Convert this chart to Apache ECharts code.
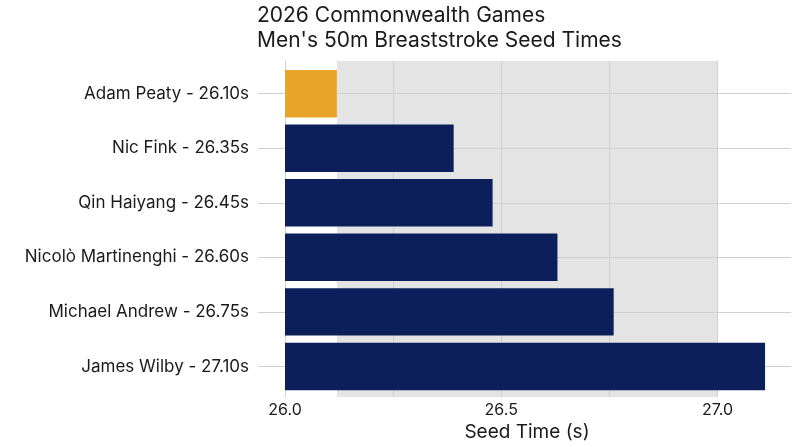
<!DOCTYPE html>
<html>
<head>
<meta charset="utf-8">
<script src="https://cdn.jsdelivr.net/npm/echarts@6/dist/echarts.min.js"></script>
<style>
html,body{margin:0;padding:0;background:#fff;}
#chart{width:800px;height:447px;}
</style>
</head>
<body>
<div id="chart"></div>
<script>
// ---- data ----
const swimmers = ['Adam Peaty', 'Nic Fink', 'Qin Haiyang', 'Nicolò Martinenghi', 'Michael Andrew', 'James Wilby'];
const labelTimes = ['26.10', '26.35', '26.45', '26.60', '26.75', '27.10'];
const barTimes = [26.12, 26.39, 26.48, 26.63, 26.76, 27.11];
const highlight = 'Adam Peaty';
const shadeRange = [26.12, 27.0];
const xMin = 26.0, xMax = 27.17;

const categories = swimmers.map((n, i) => n + ' - ' + labelTimes[i] + 's');
const NAVY = '#0c1f5b', GOLD = '#e8a529', GRID = '#d0d0d0', SHADE = '#e4e4e4';
const FONT = 'Inter, "Noto Sans", sans-serif';

const chart = echarts.init(document.getElementById('chart'));
chart.setOption({
  animation: false,
  backgroundColor: '#fff',
  textStyle: { fontFamily: FONT },
  title: {
    text: '2026 Commonwealth Games\nMen\'s 50m Breaststroke Seed Times',
    left: 257, top: 3, padding: 0,
    textStyle: { fontFamily: FONT, fontSize: 21, fontWeight: 'normal', color: '#1a1a1a', lineHeight: 25 }
  },
  grid: [
    { left: 285, right: 9, top: 61, bottom: 48.5 },
    { left: 285, right: 9, top: 66.4, bottom: 53.3 }
  ],
  xAxis: [
    {
      type: 'value', gridIndex: 0, min: xMin, max: xMax, interval: 0.25, z: 1.5,
      axisLine: { show: false }, axisTick: { show: false },
      axisLabel: {
        fontFamily: FONT, fontSize: 16, color: '#1a1a1a', margin: 5, showMaxLabel: false,
        formatter: v => (Math.abs(v * 2 - Math.round(v * 2)) < 1e-6 ? v.toFixed(1) : '')
      },
      splitLine: { show: true, showMaxLine: false, lineStyle: { color: GRID, width: 1 } },
      name: 'Seed Time (s)', nameLocation: 'middle', nameGap: 24,
      nameTextStyle: { fontFamily: FONT, fontSize: 19, color: '#1a1a1a', padding: [0, 22, 0, 0] }
    },
    {
      type: 'value', gridIndex: 1, min: xMin, max: xMax, show: false,
      splitLine: { show: false }
    }
  ],
  yAxis: [
    {
      type: 'value', gridIndex: 0, min: 0, max: 1,
      axisLine: { show: true, lineStyle: { color: GRID, width: 1 } },
      axisTick: { show: false }, axisLabel: { show: false }, splitLine: { show: false }
    },
    {
      type: 'category', gridIndex: 1, inverse: true, data: categories,
      axisLine: { show: false },
      axisTick: { show: true, alignWithLabel: true, length: 27, lineStyle: { color: GRID, width: 1 } },
      axisLabel: { fontFamily: FONT, fontSize: 17, color: '#1a1a1a', margin: 36 },
      splitLine: { show: false }
    }
  ],
  series: [
    {
      type: 'line', xAxisIndex: 0, yAxisIndex: 0, data: [], silent: true,
      markArea: {
        silent: true, z: 1,
        itemStyle: { color: SHADE },
        data: [[{ xAxis: shadeRange[0] }, { xAxis: shadeRange[1] }]]
      }
    },
    {
      type: 'line', xAxisIndex: 1, yAxisIndex: 1, data: [], silent: true,
      markLine: {
        silent: true, z: 1.6, symbol: 'none', animation: false,
        label: { show: false },
        lineStyle: { color: GRID, width: 1, type: 'solid' },
        data: categories.map((c, i) => ({ yAxis: i }))
      }
    },
    {
      type: 'bar', xAxisIndex: 1, yAxisIndex: 1, z: 2, barWidth: '87%',
      data: barTimes.map((v, i) => ({
        value: v,
        itemStyle: { color: swimmers[i] === highlight ? GOLD : NAVY }
      }))
    }
  ]
});
</script>
</body>
</html>
